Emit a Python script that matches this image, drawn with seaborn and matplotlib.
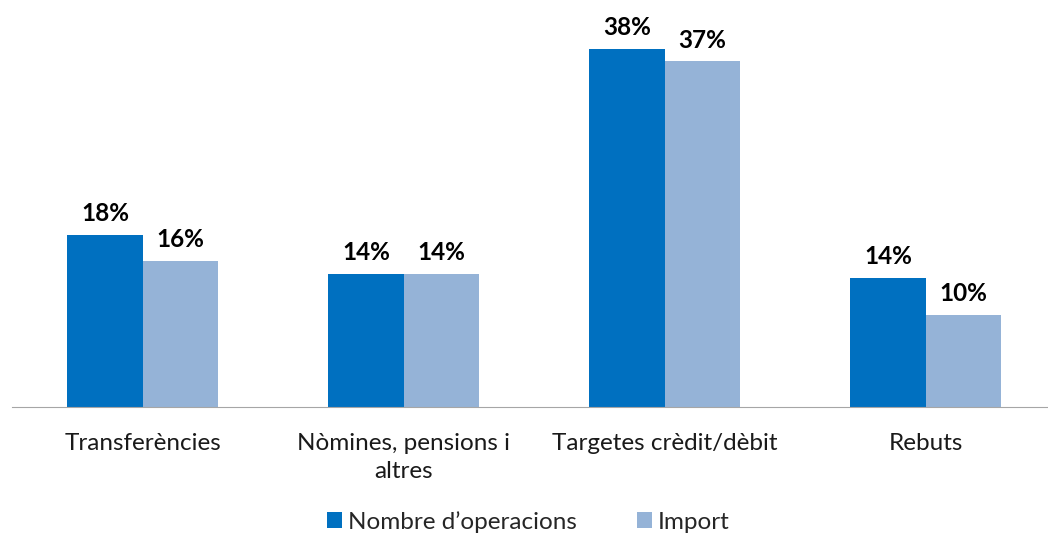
import pandas as pd
import matplotlib
matplotlib.use('Agg')
import matplotlib.pyplot as plt
import seaborn as sns

# data
categories = ['Transferències', 'Nòmines, pensions i\naltres', 'Targetes crèdit/dèbit', 'Rebuts']
series = ['Nombre d\u2019operacions', 'Import']
nombre = [18.3, 14.1, 38.0, 13.7]
imports = [15.5, 14.1, 36.7, 9.8]
nombre_labels = ['18%', '14%', '38%', '14%']
import_labels = ['16%', '14%', '37%', '10%']

df = pd.DataFrame({
    'categoria': categories * 2,
    'serie': [series[0]] * 4 + [series[1]] * 4,
    'valor': nombre + imports,
})

sns.set_style('white')
plt.rcParams['font.family'] = ['Lato', 'DejaVu Sans']

fig = plt.figure(figsize=(10.48, 5.33), dpi=100)
ax = fig.add_axes([12 / 1048, 126 / 533, 1044 / 1048, 387 / 533])

sns.barplot(data=df, x='categoria', y='valor', hue='serie', order=categories,
            hue_order=series, palette=['#0070C0', '#95B3D7'], saturation=1,
            width=0.575, gap=0, linewidth=0, ax=ax)

for cont, labs in zip(ax.containers, [nombre_labels, import_labels]):
    ax.bar_label(cont, labels=labs, padding=7, fontsize=17.5, fontweight='bold',
                 color='black')

ax.set_xlim(-0.5, 3.5)
ax.set_ylim(0, 41.08)
ax.set_xlabel('')
ax.set_ylabel('')
ax.set_yticks([])
for s in ['top', 'right', 'left']:
    ax.spines[s].set_visible(False)
ax.spines['bottom'].set_color('#a6a6a6')

ax.set_xticks(range(4))
ax.set_xticklabels(categories, fontsize=17.5, color='#1a1a1a', linespacing=1.4,
                   multialignment='center')
ax.tick_params(axis='x', which='major', length=0, pad=19)
ax.set_xticks([-0.5, 0.5, 1.5, 2.5, 3.5], minor=True)
ax.tick_params(axis='x', which='minor', length=7, color='#a6a6a6', width=1)

ax.legend(loc='lower center', bbox_to_anchor=(0.4947, -0.35), ncol=2, frameon=False,
          fontsize=17.5, handlelength=0.6, handleheight=0.6, handletextpad=0.25,
          columnspacing=2.5, borderaxespad=0)

fig.savefig('out.png', dpi=100)
